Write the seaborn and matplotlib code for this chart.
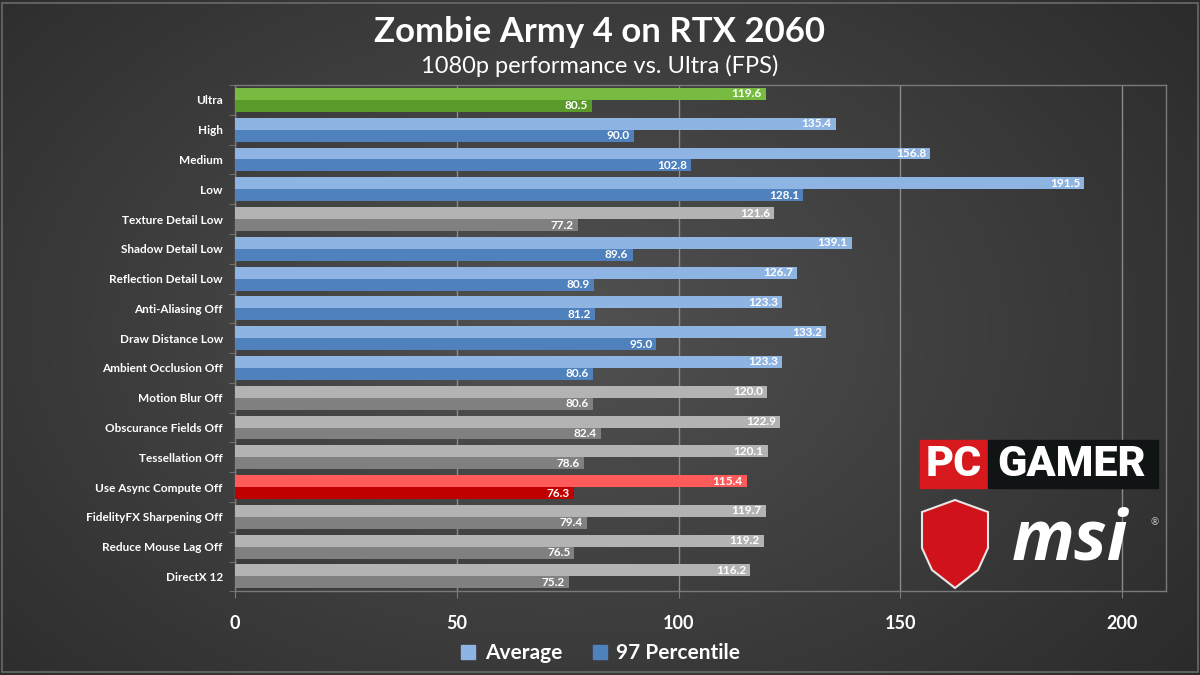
import numpy as np
import pandas as pd
import matplotlib.pyplot as plt
import seaborn as sns
from matplotlib.patches import Rectangle, Polygon
from matplotlib.lines import Line2D

# chart data
settings = ['Ultra', 'High', 'Medium', 'Low', 'Texture Detail Low', 'Shadow Detail Low',
            'Reflection Detail Low', 'Anti-Aliasing Off', 'Draw Distance Low',
            'Ambient Occlusion Off', 'Motion Blur Off', 'Obscurance Fields Off',
            'Tessellation Off', 'Use Async Compute Off', 'FidelityFX Sharpening Off',
            'Reduce Mouse Lag Off', 'DirectX 12']
average = [119.6, 135.4, 156.8, 191.5, 121.6, 139.1, 126.7, 123.3, 133.2, 123.3,
           120.0, 122.9, 120.1, 115.4, 119.7, 119.2, 116.2]
pct97 = [80.5, 90.0, 102.8, 128.1, 77.2, 89.6, 80.9, 81.2, 95.0, 80.6,
         80.6, 82.4, 78.6, 76.3, 79.4, 76.5, 75.2]
groups = ['green', 'blue', 'blue', 'blue', 'gray', 'blue', 'blue', 'blue', 'blue', 'blue',
          'gray', 'gray', 'gray', 'red', 'gray', 'gray', 'gray']

colors = {'green': ('#77BC40', '#5A9A2B'),
          'blue': ('#8EB4E3', '#4F81BD'),
          'gray': ('#B3B3B3', '#808080'),
          'red': ('#FF5B5B', '#C00000')}

df = pd.DataFrame({'setting': settings * 2,
                   'fps': average + pct97,
                   'metric': ['Average'] * len(settings) + ['97 Percentile'] * len(settings)})

sns.set_style('ticks')
plt.rcParams['font.family'] = ['Lato', 'DejaVu Sans']

fig = plt.figure(figsize=(12, 6.75), dpi=100)

# background radial gradient
bg = fig.add_axes([0, 0, 1, 1], zorder=-1)
yy, xx = np.mgrid[0:675, 0:1200]
r = np.sqrt(((xx - 560) / 900) ** 2 + ((yy - 330) / 620) ** 2)
shade = np.clip(0.32 - 0.17 * r, 0.15, 0.32)
bg.imshow(np.dstack([shade] * 3), aspect='auto', extent=[0, 1, 0, 1])
bg.add_patch(Rectangle((0.002, 0.004), 0.996, 0.992, fill=False, ec='#6a6a6a', lw=1.2,
                       transform=bg.transAxes))
bg.axis('off')

ax = fig.add_axes([0.196, 0.124, 0.776, 0.750])
ax.set_facecolor('none')
sns.barplot(data=df, x='fps', y='setting', hue='metric', orient='h', width=0.8,
            saturation=1, legend=False, ax=ax, zorder=3)

for j, cont in enumerate(ax.containers):
    for bar, g in zip(cont, groups):
        bar.set_facecolor(colors[g][j])
        bar.set_edgecolor('none')
    labels = ax.bar_label(cont, fmt='%.1f', padding=-3, color='white',
                          fontsize=8.5, fontweight='bold')
    for t in labels:
        t.set_ha('right')

ax.set_xlim(0, 210)
ax.set_ylim(len(settings) - 0.5, -0.5)
ax.set_xticks([0, 50, 100, 150, 200])
ax.set_xlabel('')
ax.set_ylabel('')
ax.grid(axis='x', color='#8a8a8a', lw=1, zorder=0)
ax.set_axisbelow(True)
for s in ax.spines.values():
    s.set_color('#7a7a7a')
    s.set_linewidth(1)
ax.tick_params(axis='x', colors='#7a7a7a', length=5, labelcolor='white',
               labelsize=13, pad=12)
for t in ax.get_xticklabels():
    t.set_fontweight('bold')
ax.tick_params(axis='y', which='major', length=0, labelcolor='white', labelsize=8.5, pad=9)
for t in ax.get_yticklabels():
    t.set_fontweight('bold')
ax.set_yticks(np.arange(-0.5, len(settings), 1), minor=True)
ax.tick_params(axis='y', which='minor', length=4, color='#7a7a7a')

fig.text(0.5, 0.952, 'Zombie Army 4 on RTX 2060', ha='center', va='center',
         color='white', fontsize=25, fontweight='bold')
fig.text(0.5, 0.902, '1080p performance vs. Ultra (FPS)', ha='center', va='center',
         color='white', fontsize=17)

handles = [Line2D([], [], marker='s', ls='none', markersize=10, color=colors['blue'][0]),
           Line2D([], [], marker='s', ls='none', markersize=10, color=colors['blue'][1])]
leg = fig.legend(handles, ['Average', '97 Percentile'], loc='center', ncol=2,
                 bbox_to_anchor=(0.5, 0.032), frameon=False, fontsize=15,
                 handlelength=0.8, handletextpad=0.4, columnspacing=1.4)
for t in leg.get_texts():
    t.set_color('white')
    t.set_fontweight('bold')

# PC GAMER logo
W, H = 1200, 675
def fx(px):
    return px / W
def fy(py):
    return 1 - py / H

fig.patches.append(Rectangle((fx(920), fy(488)), fx(68), 48 / H, color='#D7191E',
                             transform=fig.transFigure, zorder=5))
fig.patches.append(Rectangle((fx(988), fy(488)), fx(170), 48 / H, color='#101414',
                             transform=fig.transFigure, zorder=5))
fig.text(fx(954), fy(464), 'PC', ha='center', va='center', color='white', fontsize=31,
         fontweight='heavy', family=['Roboto', 'DejaVu Sans'], zorder=6)
fig.text(fx(1072), fy(464), 'GAMER', ha='center', va='center', color='white', fontsize=31,
         fontweight='heavy', family=['Roboto', 'DejaVu Sans'], zorder=6)

# msi logo
shield = [(922, 512), (955, 500), (988, 512), (988, 548), (978, 570), (955, 588),
          (932, 570), (922, 548)]
fig.patches.append(Polygon([(fx(x), fy(y)) for x, y in shield], closed=True,
                           fc='#D0131B', ec='#E6E6E6', lw=1.5,
                           transform=fig.transFigure, zorder=5))
fig.text(fx(1070), fy(541), 'msi', ha='center', va='center', color='white', fontsize=50,
         fontweight='bold', style='italic', family=['Open Sans', 'DejaVu Sans'], zorder=6)
fig.text(fx(1155), fy(523), '®', ha='center', va='center', color='#cccccc', fontsize=7,
         zorder=6)

fig.savefig('out.png', dpi=100)
